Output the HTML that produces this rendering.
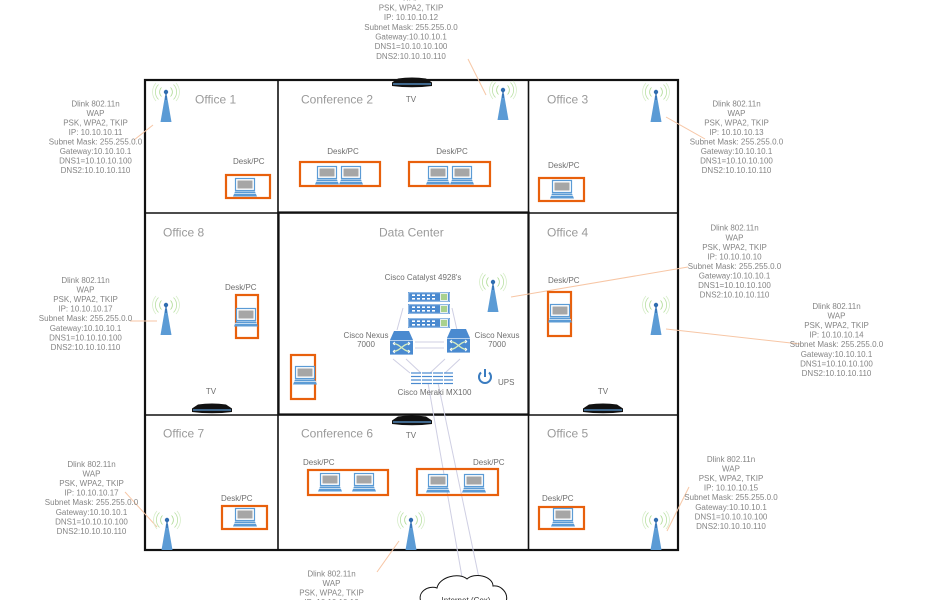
<!DOCTYPE html>
<html>
<head>
<meta charset="utf-8">
<style>
html,body{margin:0;padding:0;background:#fff;}
svg{display:block;}
text{font-family:"Liberation Sans",Arial,sans-serif;}
.room{font-size:12px;fill:#9a9a9a;}
.sm{font-size:8px;fill:#6e6e6e;}
.info{font-size:8px;fill:#858585;text-anchor:middle;}
</style>
</head>
<body>
<svg width="928" height="600" viewBox="0 0 928 600" xmlns="http://www.w3.org/2000/svg">
<defs>
  <g id="ap">
    <path d="M-4.5,-4.5 A6.4,6.4 0 0 0 -4.5,4.5 M4.5,-4.5 A6.4,6.4 0 0 1 4.5,4.5" stroke="#a9d88e" fill="none" stroke-width="0.8"/>
    <path d="M-7.5,-7.5 A10.6,10.6 0 0 0 -7.5,7.5 M7.5,-7.5 A10.6,10.6 0 0 1 7.5,7.5" stroke="#b9e0a3" fill="none" stroke-width="0.8"/>
    <path d="M-10,-9 A13.5,13.5 0 0 0 -10,9 M10,-9 A13.5,13.5 0 0 1 10,9" stroke="#d6edc8" fill="none" stroke-width="0.8"/>
    <polygon points="-1,4 1,4 5.5,30 -5.5,30" fill="#5b9bd5"/>
    <line x1="0" y1="0" x2="0" y2="8" stroke="#2f6db0" stroke-width="1.4"/>
    <circle cx="0" cy="0" r="2.2" fill="#2f6db0"/>
  </g>
  <g id="lt">
    <rect x="2.5" y="0.5" width="19" height="12" fill="#fff" stroke="#5b9bd5" stroke-width="1.2"/>
    <rect x="4.5" y="2.5" width="15" height="8" fill="#a6a6a6"/>
    <path d="M2,13.5 H22 L24,18.5 H0 Z" fill="#5b9bd5"/>
    <line x1="1" y1="15.6" x2="23" y2="15.6" stroke="#e8f1fa" stroke-width="0.8"/>
  </g>
  <g id="tv">
    <path d="M-14,-4.5 Q0,-6.5 14,-4.5 L20,-0.5 L20,3 Q0,5.5 -20,3 L-20,-0.5 Z" fill="#111"/>
    <line x1="-19" y1="1" x2="19" y2="1" stroke="#5b9bd5" stroke-width="1.2"/>
  </g>
  <g id="sw">
    <rect x="0" y="0" width="42" height="10" fill="#4a8ad0"/>
    <rect x="0.8" y="0.8" width="40.4" height="8.4" fill="none" stroke="#d6e6f6" stroke-width="0.6"/>
    <g fill="#fff">
      <rect x="4" y="2.4" width="3" height="1.6"/><rect x="9" y="2.4" width="3" height="1.6"/><rect x="14" y="2.4" width="3" height="1.6"/><rect x="19" y="2.4" width="3" height="1.6"/><rect x="24" y="2.4" width="3" height="1.6"/>
      <rect x="4" y="6" width="3" height="1.6"/><rect x="9" y="6" width="3" height="1.6"/><rect x="14" y="6" width="3" height="1.6"/><rect x="19" y="6" width="3" height="1.6"/><rect x="24" y="6" width="3" height="1.6"/>
    </g>
    <rect x="32.5" y="1.5" width="7" height="7" fill="#a9d18e" stroke="#fff" stroke-width="0.8"/>
  </g>
  <g id="nx">
    <path d="M4,0 H19 L23,9 H0 Z" fill="#4a8ad0"/>
    <rect x="0" y="9.6" width="23" height="14" fill="#4a8ad0"/>
    <path d="M3,12.5 C10,12.5 13,20.5 20,20.5 M3,20.5 C10,20.5 13,12.5 20,12.5" stroke="#d4ecc0" stroke-width="1.3" fill="none"/>
    <path d="M3,12.5 l2,-1.5 M3,12.5 l2,1.5 M20,20.5 l-2,-1.5 M20,20.5 l-2,1.5 M3,20.5 l2,-1.5 M3,20.5 l2,1.5 M20,12.5 l-2,-1.5 M20,12.5 l-2,1.5" stroke="#fff" stroke-width="1" fill="none"/>
  </g>
</defs>

<!-- walls -->
<g stroke="#111" fill="none">
  <rect x="145" y="80" width="533" height="470" stroke-width="2.2"/>
  <line x1="278" y1="80" x2="278" y2="550" stroke-width="1.6"/>
  <line x1="528.5" y1="80" x2="528.5" y2="550" stroke-width="1.6"/>
  <line x1="145" y1="213" x2="678" y2="213" stroke-width="1.6"/>
  <line x1="145" y1="415" x2="678" y2="415" stroke-width="1.6"/>
  <rect x="278.5" y="212.5" width="250" height="202" stroke-width="2.2"/>
</g>

<!-- connector lines (info) -->
<g stroke="#f7c6a5" stroke-width="1" fill="none">
  <line x1="468" y1="59" x2="486" y2="95"/>
  <line x1="134" y1="140" x2="153" y2="125"/>
  <line x1="666" y1="117" x2="705" y2="139"/>
  <line x1="511" y1="297" x2="688" y2="267"/>
  <line x1="666" y1="329" x2="800" y2="344"/>
  <line x1="130" y1="321" x2="157" y2="321"/>
  <line x1="125" y1="492" x2="157" y2="527"/>
  <line x1="689" y1="487" x2="667" y2="531"/>
  <line x1="399" y1="541" x2="377" y2="572"/>
</g>

<!-- data center connections -->
<g stroke="#cfcfe3" stroke-width="1" fill="none">
  <line x1="403" y1="308" x2="397" y2="330"/>
  <line x1="452" y1="308" x2="457" y2="330"/>
  <line x1="415" y1="342" x2="444" y2="342"/>
  <line x1="415" y1="348" x2="444" y2="348"/>
  <line x1="393" y1="359" x2="410" y2="373"/>
  <line x1="406" y1="359" x2="421" y2="373"/>
  <line x1="445" y1="359" x2="430" y2="373"/>
  <line x1="460" y1="359" x2="445" y2="373"/>
  <line x1="428" y1="383" x2="462" y2="577"/>
  <line x1="438" y1="383" x2="479" y2="578"/>
</g>

<!-- room labels -->
<text class="room" x="195" y="103.5">Office 1</text>
<text class="room" x="301" y="103.5">Conference 2</text>
<text class="room" x="547" y="103.5">Office 3</text>
<text class="room" x="163" y="236.5">Office 8</text>
<text class="room" x="379" y="236.5">Data Center</text>
<text class="room" x="547" y="236.5">Office 4</text>
<text class="room" x="163" y="437.5">Office 7</text>
<text class="room" x="301" y="437.5">Conference 6</text>
<text class="room" x="547" y="437.5">Office 5</text>

<!-- APs -->
<use href="#ap" x="166" y="92"/>
<use href="#ap" x="503" y="90"/>
<use href="#ap" x="656" y="92"/>
<use href="#ap" x="166" y="305"/>
<use href="#ap" x="493" y="282"/>
<use href="#ap" x="656" y="305"/>
<use href="#ap" x="167" y="520"/>
<use href="#ap" x="411" y="520"/>
<use href="#ap" x="656" y="520"/>

<!-- desk boxes -->
<g fill="none" stroke="#e8600c" stroke-width="2.2">
  <rect x="226" y="175" width="44" height="23"/>
  <rect x="300" y="162" width="80" height="24"/>
  <rect x="409" y="162" width="81" height="24"/>
  <rect x="539" y="178" width="45" height="23"/>
  <rect x="236" y="295" width="22" height="43"/>
  <rect x="548" y="292" width="23" height="44"/>
  <rect x="291" y="355" width="24" height="44"/>
  <rect x="222" y="506" width="45" height="23"/>
  <rect x="308" y="470" width="80" height="25"/>
  <rect x="417" y="469" width="81" height="26"/>
  <rect x="539" y="507" width="45" height="22"/>
</g>
<use href="#lt" x="233" y="178"/>
<use href="#lt" x="315" y="166"/>
<use href="#lt" x="339" y="166"/>
<use href="#lt" x="426" y="166"/>
<use href="#lt" x="450" y="166"/>
<use href="#lt" x="550" y="180"/>
<use href="#lt" x="234" y="308"/>
<use href="#lt" x="548" y="304"/>
<use href="#lt" x="293" y="366"/>
<use href="#lt" x="233" y="508"/>
<use href="#lt" x="318" y="473"/>
<use href="#lt" x="352" y="473"/>
<use href="#lt" x="426" y="474"/>
<use href="#lt" x="462" y="474"/>
<use href="#lt" x="551" y="508"/>

<!-- TVs -->
<use href="#tv" x="412" y="83"/>
<use href="#tv" x="212" y="409"/>
<use href="#tv" x="603" y="409"/>
<use href="#tv" x="412" y="421"/>

<!-- small labels -->
<text class="sm" x="233" y="164">Desk/PC</text>
<text class="sm" x="343" y="154" text-anchor="middle">Desk/PC</text>
<text class="sm" x="452" y="154" text-anchor="middle">Desk/PC</text>
<text class="sm" x="548" y="168">Desk/PC</text>
<text class="sm" x="225" y="290">Desk/PC</text>
<text class="sm" x="548" y="283">Desk/PC</text>
<text class="sm" x="221" y="501">Desk/PC</text>
<text class="sm" x="303" y="465">Desk/PC</text>
<text class="sm" x="473" y="465">Desk/PC</text>
<text class="sm" x="542" y="501">Desk/PC</text>
<text class="sm" x="411" y="102" text-anchor="middle">TV</text>
<text class="sm" x="211" y="394" text-anchor="middle">TV</text>
<text class="sm" x="603" y="394" text-anchor="middle">TV</text>
<text class="sm" x="411" y="438" text-anchor="middle">TV</text>

<!-- data center equipment -->
<text class="sm" x="423" y="280" text-anchor="middle">Cisco Catalyst 4928's</text>
<use href="#sw" x="408" y="292"/>
<use href="#sw" x="408" y="304"/>
<use href="#sw" x="408" y="318"/>
<use href="#nx" x="390" y="331"/>
<use href="#nx" x="447" y="329"/>
<text class="sm" x="366" y="338" text-anchor="middle">Cisco Nexus</text>
<text class="sm" x="366" y="347" text-anchor="middle">7000</text>
<text class="sm" x="497" y="338" text-anchor="middle">Cisco Nexus</text>
<text class="sm" x="497" y="347" text-anchor="middle">7000</text>
<g stroke="#4a8ad0" stroke-width="1.2">
  <line x1="411" y1="373" x2="421" y2="373"/><line x1="422" y1="373" x2="432" y2="373"/><line x1="433" y1="373" x2="443" y2="373"/><line x1="444" y1="373" x2="453" y2="373"/>
  <line x1="411" y1="376.5" x2="421" y2="376.5"/><line x1="422" y1="376.5" x2="432" y2="376.5"/><line x1="433" y1="376.5" x2="443" y2="376.5"/><line x1="444" y1="376.5" x2="453" y2="376.5"/>
  <line x1="411" y1="380" x2="421" y2="380"/><line x1="422" y1="380" x2="432" y2="380"/><line x1="433" y1="380" x2="443" y2="380"/><line x1="444" y1="380" x2="453" y2="380"/>
  <line x1="411" y1="383.5" x2="421" y2="383.5"/><line x1="422" y1="383.5" x2="432" y2="383.5"/><line x1="433" y1="383.5" x2="443" y2="383.5"/><line x1="444" y1="383.5" x2="453" y2="383.5"/>
</g>
<text class="sm" x="434.5" y="395" text-anchor="middle">Cisco Meraki MX100</text>
<path d="M481,372.5 A6,6 0 1 0 489,372.5" fill="none" stroke="#3a7cc0" stroke-width="2"/>
<line x1="485" y1="369" x2="485" y2="377" stroke="#3a7cc0" stroke-width="2"/>
<text class="sm" x="498" y="385">UPS</text>

<!-- cloud -->
<path d="M421,602 C417,592 428,585 437,588 C439,577 459,572 467,579 C474,572 493,576 493,586 C501,585 509,593 506,602" fill="#fff" stroke="#111" stroke-width="1"/>
<text x="466" y="603" text-anchor="middle" style="font-size:8px;fill:#333;">Internet (Cox)</text>

<!-- info blocks -->
<text class="info" x="411" y="-9"><tspan x="411">Dlink 802.11n</tspan><tspan x="411" dy="9.7">WAP</tspan><tspan x="411" dy="9.7">PSK, WPA2, TKIP</tspan><tspan x="411" dy="9.7">IP: 10.10.10.12</tspan><tspan x="411" dy="9.7">Subnet Mask: 255.255.0.0</tspan><tspan x="411" dy="9.7">Gateway:10.10.10.1</tspan><tspan x="411" dy="9.7">DNS1=10.10.10.100</tspan><tspan x="411" dy="9.7">DNS2:10.10.10.110</tspan></text>

<text class="info" x="95.5" y="106.3"><tspan x="95.5">Dlink 802.11n</tspan><tspan x="95.5" dy="9.55">WAP</tspan><tspan x="95.5" dy="9.55">PSK, WPA2, TKIP</tspan><tspan x="95.5" dy="9.55">IP: 10.10.10.11</tspan><tspan x="95.5" dy="9.55">Subnet Mask: 255.255.0.0</tspan><tspan x="95.5" dy="9.55">Gateway:10.10.10.1</tspan><tspan x="95.5" dy="9.55">DNS1=10.10.10.100</tspan><tspan x="95.5" dy="9.55">DNS2:10.10.10.110</tspan></text>

<text class="info" x="736.5" y="106.3"><tspan x="736.5">Dlink 802.11n</tspan><tspan x="736.5" dy="9.55">WAP</tspan><tspan x="736.5" dy="9.55">PSK, WPA2, TKIP</tspan><tspan x="736.5" dy="9.55">IP: 10.10.10.13</tspan><tspan x="736.5" dy="9.55">Subnet Mask: 255.255.0.0</tspan><tspan x="736.5" dy="9.55">Gateway:10.10.10.1</tspan><tspan x="736.5" dy="9.55">DNS1=10.10.10.100</tspan><tspan x="736.5" dy="9.55">DNS2:10.10.10.110</tspan></text>

<text class="info" x="734.5" y="230.7"><tspan x="734.5">Dlink 802.11n</tspan><tspan x="734.5" dy="9.55">WAP</tspan><tspan x="734.5" dy="9.55">PSK, WPA2, TKIP</tspan><tspan x="734.5" dy="9.55">IP: 10.10.10.10</tspan><tspan x="734.5" dy="9.55">Subnet Mask: 255.255.0.0</tspan><tspan x="734.5" dy="9.55">Gateway:10.10.10.1</tspan><tspan x="734.5" dy="9.55">DNS1=10.10.10.100</tspan><tspan x="734.5" dy="9.55">DNS2:10.10.10.110</tspan></text>

<text class="info" x="85.5" y="283"><tspan x="85.5">Dlink 802.11n</tspan><tspan x="85.5" dy="9.55">WAP</tspan><tspan x="85.5" dy="9.55">PSK, WPA2, TKIP</tspan><tspan x="85.5" dy="9.55">IP: 10.10.10.17</tspan><tspan x="85.5" dy="9.55">Subnet Mask: 255.255.0.0</tspan><tspan x="85.5" dy="9.55">Gateway:10.10.10.1</tspan><tspan x="85.5" dy="9.55">DNS1=10.10.10.100</tspan><tspan x="85.5" dy="9.55">DNS2:10.10.10.110</tspan></text>

<text class="info" x="836.5" y="309"><tspan x="836.5">Dlink 802.11n</tspan><tspan x="836.5" dy="9.55">WAP</tspan><tspan x="836.5" dy="9.55">PSK, WPA2, TKIP</tspan><tspan x="836.5" dy="9.55">IP: 10.10.10.14</tspan><tspan x="836.5" dy="9.55">Subnet Mask: 255.255.0.0</tspan><tspan x="836.5" dy="9.55">Gateway:10.10.10.1</tspan><tspan x="836.5" dy="9.55">DNS1=10.10.10.100</tspan><tspan x="836.5" dy="9.55">DNS2:10.10.10.110</tspan></text>

<text class="info" x="91.5" y="467"><tspan x="91.5">Dlink 802.11n</tspan><tspan x="91.5" dy="9.55">WAP</tspan><tspan x="91.5" dy="9.55">PSK, WPA2, TKIP</tspan><tspan x="91.5" dy="9.55">IP: 10.10.10.17</tspan><tspan x="91.5" dy="9.55">Subnet Mask: 255.255.0.0</tspan><tspan x="91.5" dy="9.55">Gateway:10.10.10.1</tspan><tspan x="91.5" dy="9.55">DNS1=10.10.10.100</tspan><tspan x="91.5" dy="9.55">DNS2:10.10.10.110</tspan></text>

<text class="info" x="731" y="462"><tspan x="731">Dlink 802.11n</tspan><tspan x="731" dy="9.55">WAP</tspan><tspan x="731" dy="9.55">PSK, WPA2, TKIP</tspan><tspan x="731" dy="9.55">IP: 10.10.10.15</tspan><tspan x="731" dy="9.55">Subnet Mask: 255.255.0.0</tspan><tspan x="731" dy="9.55">Gateway:10.10.10.1</tspan><tspan x="731" dy="9.55">DNS1=10.10.10.100</tspan><tspan x="731" dy="9.55">DNS2:10.10.10.110</tspan></text>

<text class="info" x="331.5" y="576.3"><tspan x="331.5">Dlink 802.11n</tspan><tspan x="331.5" dy="9.55">WAP</tspan><tspan x="331.5" dy="9.55">PSK, WPA2, TKIP</tspan><tspan x="331.5" dy="9.55">IP: 10.10.10.16</tspan></text>
</svg>
</body>
</html>
